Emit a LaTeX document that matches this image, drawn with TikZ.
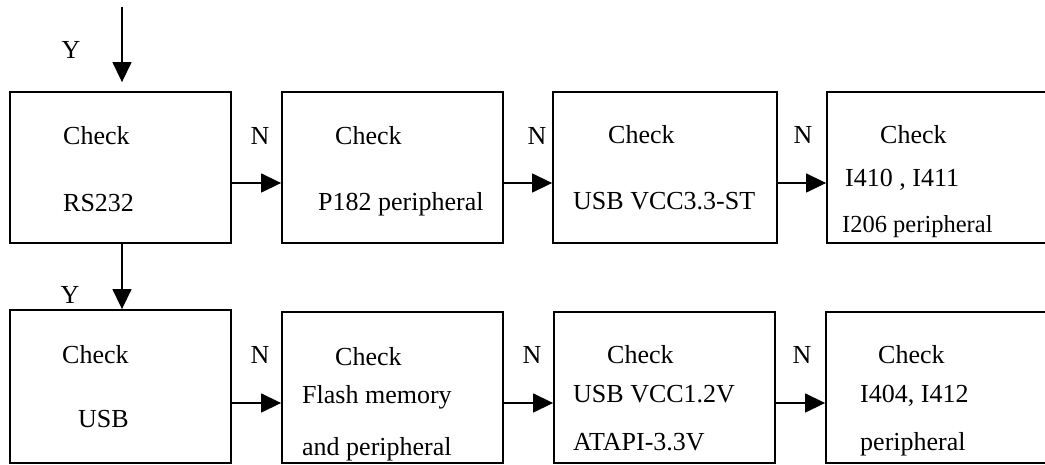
\documentclass[tikz,border=0pt]{standalone}
\usepackage{fontspec}
\setmainfont{Liberation Serif}
\usetikzlibrary{arrows.meta}

\begin{document}
\begin{tikzpicture}[x=1pt,y=-1pt,line join=miter,
	every node/.style={font=\fontsize{26}{30}\selectfont},
	box/.style={draw,line width=1.8pt,minimum width=221pt,minimum height=151pt,inner sep=0pt},
	txt/.style={anchor=base west,inner sep=0pt},
	lbl/.style={inner sep=0pt},
	arr/.style={line width=1.4pt,-{Triangle[length=20pt,width=19pt]}}]
	\useasboundingbox (0,0) rectangle (1045,465);
	% boxes, top row
	\node[box] (b1) at (120.5,167.5) {};
	\node[box] (b2) at (392.5,167.5) {};
	\node[box,minimum width=224pt] (b3) at (665,167.5) {};
	\node[box,minimum width=240pt] (b4) at (947,167.5) {};
	% boxes, bottom row
	\node[box,minimum height=153pt] (b5) at (120.5,386.5) {};
	\node[box] (b6) at (392.5,387.5) {};
	\node[box] (b7) at (664.5,387.5) {};
	\node[box,minimum width=240pt] (b8) at (946,387.5) {};
	% texts
	\node[txt] (t1a) at (63,145) {Check};
	\node[txt] (t1b) at (63,212) {RS232};
	\node[txt] (t2a) at (335,145) {Check};
	\node[txt] (t2b) at (318,211) {P182 peripheral};
	\node[txt] (t3a) at (608,144) {Check};
	\node[txt] (t3b) at (573,210) {USB VCC3.3-ST};
	\node[txt] (t4a) at (880,144) {Check};
	\node[txt] (t4b) at (845,187) {I410 , I411};
	\node[txt,font=\fontsize{24.5}{28}\selectfont] (t4c) at (842,233) {I206 peripheral};
	\node[txt] (t5a) at (62,363) {Check};
	\node[txt] (t5b) at (78,427) {USB};
	\node[txt] (t6a) at (335,365) {Check};
	\node[txt] (t6b) at (302,403) {Flash memory};
	\node[txt] (t6c) at (302,455) {and peripheral};
	\node[txt] (t7a) at (607,363) {Check};
	\node[txt] (t7b) at (573,402) {USB VCC1.2V};
	\node[txt] (t7c) at (573,450) {ATAPI-3.3V};
	\node[txt] (t8a) at (878,363) {Check};
	\node[txt] (t8b) at (860,402) {I404, I412};
	\node[txt] (t8c) at (860,450) {peripheral};
	% Y / N labels
	\node[lbl] (y1) at (71,50) {Y};
	\node[lbl] (y2) at (70,295) {Y};
	\foreach \i/\x/\y in {1/260/136,2/537/136,3/803/135,4/260/355,5/532/355,6/802/355}{
		\node[lbl] (n\i) at (\x,\y) {N};
	}
	% arrows
	\coordinate (start) at (122,7);
	\draw[arr,shorten >=9pt] (start) -- (start |- b1.north);
	\draw[arr] ([xshift=1.5pt]b1.south) -- ([xshift=1.5pt]b5.north);
	\foreach \a/\b in {b1/b2,b2/b3,b3/b4,b5/b6,b6/b7,b7/b8}{
		\draw[arr] ([yshift=-15.5pt]\b.west -| \a.east) -- ([yshift=-15.5pt]\b.west);
	}
\end{tikzpicture}
\end{document}
